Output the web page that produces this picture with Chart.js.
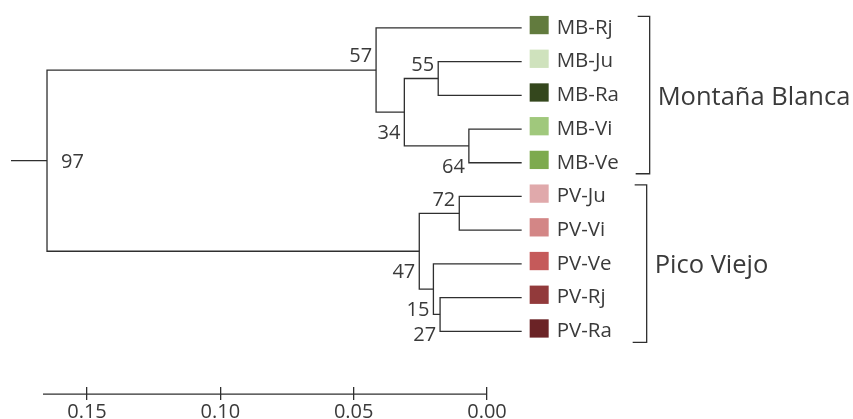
<!DOCTYPE html>
<html>
<head>
<meta charset="utf-8">
<script src="https://cdn.jsdelivr.net/npm/chart.js@4.4.1/dist/chart.umd.min.js"></script>
<style>
html,body{margin:0;padding:0;background:#fff;}
#wrap{width:853px;height:419px;position:relative;}
</style>
</head>
<body>
<div id="wrap"><canvas id="c"></canvas></div>
<script>
// ---- data ----
const leaves = ['MB-Rj','MB-Ju','MB-Ra','MB-Vi','MB-Ve','PV-Ju','PV-Vi','PV-Ve','PV-Rj','PV-Ra'];
const leafColors = ['#627b3e','#cfe2bd','#34471d','#a0c87c','#7daa4e','#e0a9ab','#d38686','#c55a5a','#923a3b','#6b2326'];
const leafHeight = -0.013;
const nodeNames = ['root','MB','n34','n55','n64','PV','n72','n15','n27'];
const nodeHeights = [0.165, 0.0416, 0.0310, 0.0183, 0.0068, 0.0254, 0.0104, 0.0201, 0.0176];
const nodeChildren = [['MB','PV'],['MB-Rj','n34'],['n55','n64'],['MB-Ju','MB-Ra'],['MB-Vi','MB-Ve'],['n72','n15'],['PV-Ju','PV-Vi'],['PV-Ve','n27'],['PV-Rj','PV-Ra']];
const bootstrap = [97, 57, 34, 55, 64, 47, 72, 15, 27];
const rootStub = 0.1785;
const groups = ['Montaña Blanca', 'Pico Viejo'];
const groupFirst = [0, 5];
const groupLast = [4, 9];
const scaleTicks = [0.15, 0.10, 0.05, 0.00];
const scaleStart = 0.1665;

// ---- style ----
const bootPos = ['right','above','below','above','below','below','above','below','below'];
const LINE = '#2f2f2f';
const TEXT = '#3a3a3a';
const FONT = '"Open Sans", sans-serif';

// ---- build tree geometry ----
const yOf = {}, hOf = {};
leaves.forEach((l, i) => { yOf[l] = i; hOf[l] = leafHeight; });
function resolve(name) {
  if (yOf[name] !== undefined) return;
  const k = nodeNames.indexOf(name);
  nodeChildren[k].forEach(resolve);
  yOf[name] = (yOf[nodeChildren[k][0]] + yOf[nodeChildren[k][1]]) / 2;
  hOf[name] = nodeHeights[k];
}
nodeNames.forEach(resolve);

const datasets = [];
nodeNames.forEach((n, k) => {
  const [a, b] = nodeChildren[k];
  datasets.push({
    data: [{x: hOf[a], y: yOf[a]}, {x: hOf[n], y: yOf[a]}, {x: hOf[n], y: yOf[b]}, {x: hOf[b], y: yOf[b]}],
    borderColor: LINE, borderWidth: 1.3, pointRadius: 0, fill: false, tension: 0
  });
});
datasets.push({
  data: [{x: rootStub, y: yOf.root}, {x: hOf.root, y: yOf.root}],
  borderColor: LINE, borderWidth: 1.3, pointRadius: 0, fill: false
});
const rulerY = 10.861;
datasets.push({
  data: [{x: scaleStart, y: rulerY}, {x: scaleTicks[scaleTicks.length - 1], y: rulerY}],
  borderColor: LINE, borderWidth: 1.3, pointRadius: 0, fill: false, clip: false
});

const annot = {
  id: 'annot',
  afterDatasetsDraw(chart) {
    const ctx = chart.ctx, xs = chart.scales.x, ys = chart.scales.y;
    ctx.save();
    // leaves
    const lx = xs.getPixelForValue(leafHeight);
    leaves.forEach((l, i) => {
      const py = ys.getPixelForValue(i);
      ctx.fillStyle = leafColors[i];
      ctx.fillRect(lx + 8, py - 12, 19, 18.3);
      ctx.fillStyle = TEXT;
      ctx.font = '400 20.5px ' + FONT;
      ctx.textAlign = 'left';
      ctx.textBaseline = 'alphabetic';
      ctx.fillText(l, lx + 35, py + 5.8);
    });
    // bootstrap values
    ctx.font = '400 20px ' + FONT;
    nodeNames.forEach((n, k) => {
      const px = xs.getPixelForValue(hOf[n]);
      const py = ys.getPixelForValue(yOf[n]);
      ctx.fillStyle = TEXT;
      if (bootPos[k] === 'right') {
        ctx.textAlign = 'left';
        ctx.fillText(String(bootstrap[k]), px + 14, py + 7.3);
      } else if (bootPos[k] === 'above') {
        ctx.textAlign = 'right';
        ctx.fillText(String(bootstrap[k]), px - 4, py - 7.8);
      } else {
        ctx.textAlign = 'right';
        ctx.fillText(String(bootstrap[k]), px - 4, py + 26.8);
      }
    });
    // brackets
    ctx.strokeStyle = LINE;
    ctx.lineWidth = 1.3;
    groups.forEach((g, j) => {
      const y1 = ys.getPixelForValue(groupFirst[j]) - 11.5;
      const y2 = ys.getPixelForValue(groupLast[j]) + 11;
      const bx = lx + 128 - j * 3;
      ctx.beginPath();
      ctx.moveTo(bx - 12, y1); ctx.lineTo(bx, y1); ctx.lineTo(bx, y2); ctx.lineTo(bx - 14, y2);
      ctx.stroke();
      const my = ys.getPixelForValue((groupFirst[j] + groupLast[j]) / 2);
      ctx.fillStyle = TEXT;
      ctx.font = '400 25.5px ' + FONT;
      ctx.textAlign = 'left';
      ctx.fillText(g, bx + 8, my + 9.3);
    });
    ctx.restore();
  }
};

new Chart(document.getElementById('c'), {
  type: 'line',
  data: { datasets },
  options: {
    responsive: true,
    maintainAspectRatio: false,
    animation: false,
    devicePixelRatio: 1,
    layout: { padding: { left: 0, right: 0, top: 0, bottom: -5 } },
    plugins: { legend: { display: false }, tooltip: { enabled: false } },
    scales: {
      x: {
        type: 'linear',
        reverse: true,
        min: -0.13725,
        max: 0.18263,
        afterBuildTicks: (s) => { s.ticks = scaleTicks.map(v => ({ value: v })); },
        border: { display: false },
        grid: { drawOnChartArea: false, drawTicks: true, tickLength: 13, color: LINE, lineWidth: 1.3 },
        ticks: {
          padding: 4,
          color: TEXT,
          font: { family: FONT, size: 20, lineHeight: 0.8 },
          maxRotation: 0,
          callback: (v) => Number(v).toFixed(2)
        }
      },
      y: {
        type: 'linear',
        display: false,
        reverse: true,
        min: -0.828,
        max: 10.652
      }
    }
  },
  plugins: [annot]
});
</script>
</body>
</html>
